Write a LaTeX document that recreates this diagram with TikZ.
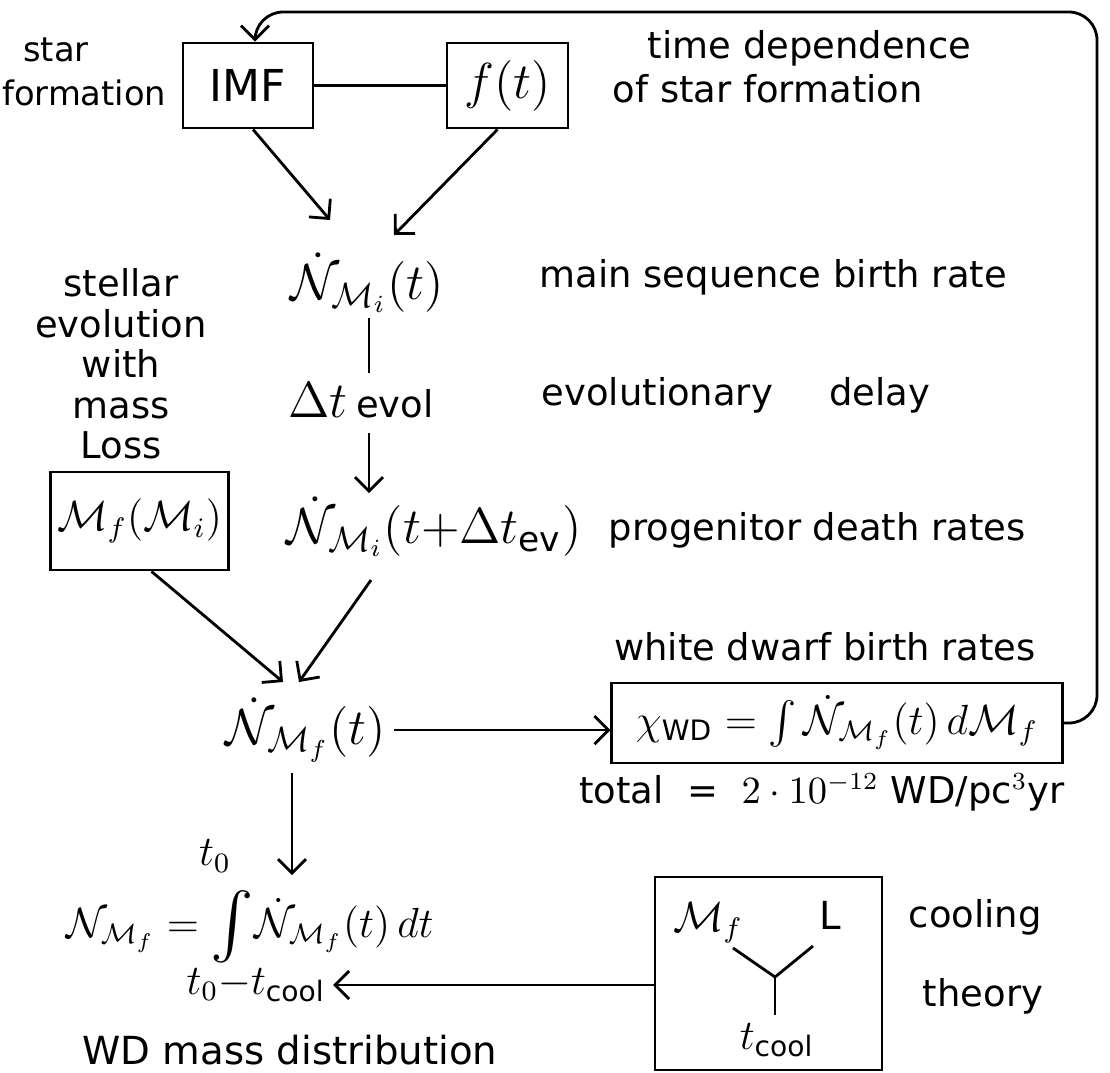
\documentclass[tikz,border=0pt]{standalone}
\usepackage{amsmath, amssymb}
\usepackage{fontspec}
\setmainfont{DejaVu Sans}
\usetikzlibrary{positioning,arrows.meta,calc}
\newcommand{\handsize}{\fontsize{10.5}{11.5}\selectfont}
\newcommand{\formsize}{\fontsize{14}{16}\selectfont}
\newcommand{\formsmall}{\fontsize{12}{14}\selectfont}
\newcommand{\bigintsign}{\vcenter{\hbox{\scalebox{1.55}{$\int$}}}}
\tikzset{
  blockbox/.style={draw, thick, inner sep=2pt, align=center},
  flowarrow/.style={-{Straight Barb[length=1.4mm, width=2.8mm]}, thick},
  linkline/.style={thick},
  handtext/.style={font=\handsize, align=center, inner sep=2pt},
  mathtext/.style={font=\formsize, inner sep=2pt}
}

\begin{document}
\begin{tikzpicture}[x=0.01cm, y=-0.01cm]
  \useasboundingbox (0,0) rectangle (1110,1072);
  % boxes
  \node[blockbox, minimum width=1.3cm, minimum height=0.85cm, font=\fontsize{12.5}{14}\selectfont] (imf) at (248,85.5) {IMF};
  \node[blockbox, minimum width=1.21cm, minimum height=0.85cm, font=\fontsize{14}{16}\selectfont] (sfr) at (507.5,85.5) {$f(t)$};
  \node[blockbox, minimum width=1.77cm, minimum height=0.98cm, font=\fontsize{11.5}{13}\selectfont] (mfmi) at (139.5,521) {$\mathcal{M}_f(\mathcal{M}_i)$};
  \node[blockbox, minimum width=4.5cm, minimum height=0.8cm, font=\formsmall] (chi) at (837,723) {$\chi_{\mathrm{WD}} = \int \dot{\mathcal{N}}_{\mathcal{M}_f}(t)\, d\mathcal{M}_f$};
  \node[blockbox, minimum width=2.27cm, minimum height=1.93cm] (cool) at (768.5,973.5) {};
  % main column
  \node[mathtext] (nmi) at (367,283) {$\dot{\mathcal{N}}_{\mathcal{M}_i}(t)$};
  \node[mathtext] (dtev) at (361,400) {$\Delta t$\,{\handsize evol}};
  \node[mathtext] (nmidel) at (434,527) {$\dot{\mathcal{N}}_{\mathcal{M}_i}(t{+}\Delta t_{\mathrm{ev}})$};
  \node[mathtext] (nmf) at (306,730) {$\dot{\mathcal{N}}_{\mathcal{M}_f}(t)$};
  \node[mathtext, font=\formsmall] (eq) at (250,927) {$\mathcal{N}_{\mathcal{M}_f} = \bigintsign \dot{\mathcal{N}}_{\mathcal{M}_f}(t)\,dt$};
  \node[mathtext, font=\formsmall] (tup) at (215,856) {$t_0$};
  \node[mathtext, font=\formsmall] (tlow) at (256,985) {$t_0{-}t_{\mathrm{cool}}$};
  % inside the cooling box
  \node[mathtext, font=\formsmall] (cmf) at (708,923) {$\mathcal{M}_f$};
  \node[handtext, font=\fontsize{11}{13}\selectfont] (clum) at (830,915) {L};
  \node[mathtext, font=\formsmall] (ctc) at (777,1040) {$t_{\mathrm{cool}}$};
  \coordinate (yjoin) at (775,977);
  \coordinate (fbcorner) at (1097,12);
  % side labels
  \node[handtext, font=\fontsize{9.6}{11.5}\selectfont, align=left, anchor=east] (sflbl) at (174,72) {\hspace*{6pt}star\\[1pt]formation};
  \node[handtext, align=left, anchor=west] (tdlbl) at (605,67) {\hspace*{10pt}time dependence\\[1pt]of star formation};
  \node[handtext, anchor=west] (mslbl) at (532,277) {main sequence birth rate};
  \node[handtext] (selbl) at (121,364) {stellar\\evolution\\with\\mass\\Loss};
  \node[handtext, anchor=west] (edlbl) at (534,395) {evolutionary\hspace{16pt}delay};
  \node[handtext, anchor=west] (pdlbl) at (601,530) {progenitor death rates};
  \node[handtext] (wdlbl) at (825,647) {white dwarf birth rates};
  \node[handtext] (totlbl) at (822,792) {total \ = \ $2\cdot10^{-12}$ WD/pc$^3$yr};
  \node[handtext, align=left, anchor=west] (ctlbl) at (901,957) {cooling\\[11pt]\hspace*{4pt}theory};
  \node[handtext, font=\fontsize{11}{13}\selectfont] (mdlbl) at (290,1050) {WD mass distribution};
  % connectors
  \draw[linkline] (imf.east) -- (sfr.west);
  \draw[flowarrow] ($(imf.south)+(5,0)$) -- ($(nmi)+(-37,-63)$);
  \draw[flowarrow] ($(sfr.south)+(-10,0)$) -- ($(nmi)+(27,-48)$);
  \draw[linkline] ($(nmi)+(2,35)$) -- ($(dtev)+(8,-27)$);
  \draw[flowarrow] ($(dtev)+(8,33)$) -- ($(nmidel)+(-65,-34)$);
  \draw[flowarrow] ($(mfmi.south)+(12,0)$) -- ($(nmf)+(-23,-48)$);
  \draw[flowarrow] ($(nmidel)+(-63,53)$) -- ($(nmf)+(-7,-48)$);
  \draw[flowarrow] (nmf.east) -- (chi.west |- nmf.east);
  \draw[flowarrow, rounded corners=8] (chi.east) -| (fbcorner) -| ($(imf.north)+(7,0)$);
  \draw[flowarrow] ($(nmf)+(-14,43)$) -- ($(eq)+(42,-52)$);
  \draw[flowarrow] (cool.west |- tlow.east) -- (tlow.east);
  \draw[linkline] ($(cmf)+(25,25)$) -- (yjoin) -- ($(clum)+(-17,31)$);
  \draw[linkline] (yjoin) -- ($(ctc)+(-2,-25)$);
\end{tikzpicture}
\end{document}
